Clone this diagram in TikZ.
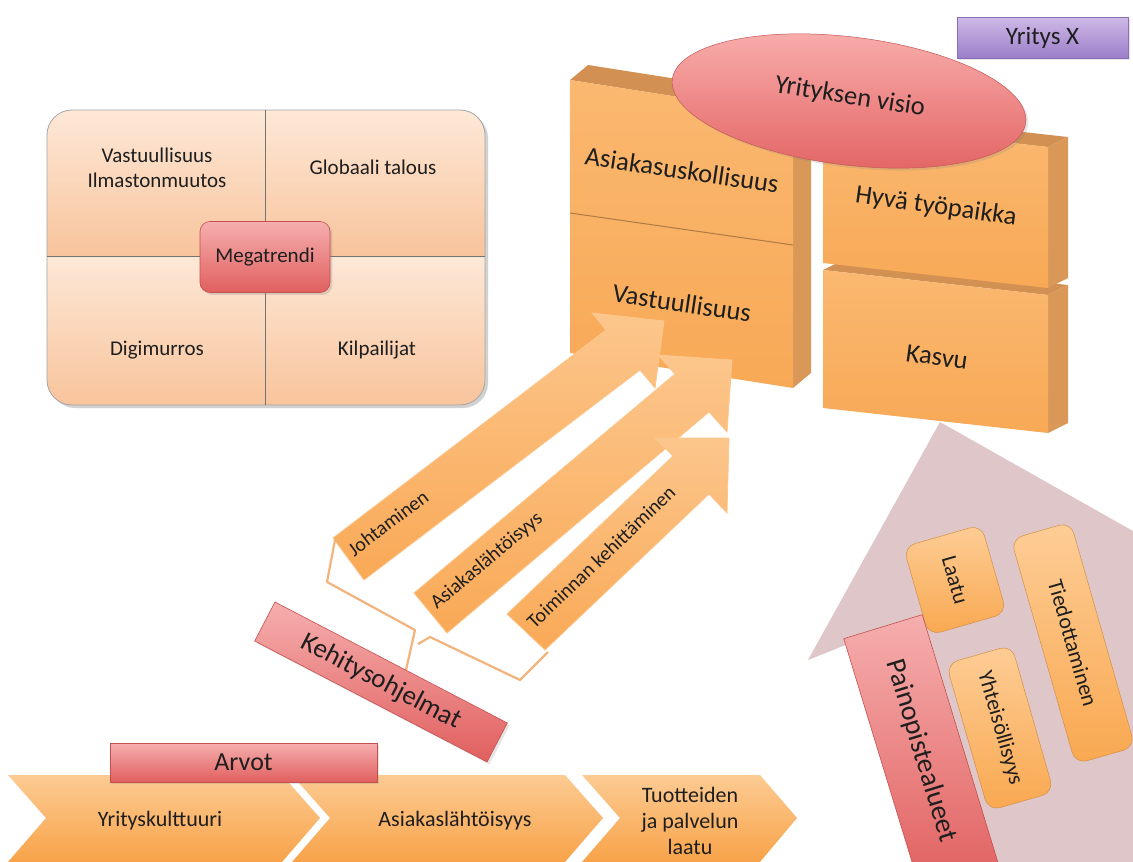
\documentclass[tikz,border=0pt]{standalone}
\usepackage{fontspec}
\setmainfont{Carlito}
\usetikzlibrary{shapes.geometric,shadows}
\definecolor{ink}{HTML}{1E1E1E}
\definecolor{pchL}{HTML}{FDE8D7}
\definecolor{pchD}{HTML}{F8C49C}
\definecolor{redL}{HTML}{F6AEAE}
\definecolor{redD}{HTML}{E0605F}
\definecolor{redB}{HTML}{C4504F}
\definecolor{orL}{HTML}{FCCB93}
\definecolor{orD}{HTML}{F8A349}
\definecolor{faceL}{HTML}{FAB870}
\definecolor{faceD}{HTML}{F8A956}
\definecolor{sidec}{HTML}{D99858}
\definecolor{topc}{HTML}{D29152}
\definecolor{ellL}{HTML}{F9B0AE}
\definecolor{ellD}{HTML}{E46868}
\definecolor{purL}{HTML}{CEB9E7}
\definecolor{purD}{HTML}{9C7EC8}
\definecolor{purB}{HTML}{8A6DB8}
\definecolor{housec}{HTML}{DFC6C8}
\definecolor{bracec}{HTML}{F2B37C}
\definecolor{boxL}{HTML}{FDCD96}
\definecolor{boxD}{HTML}{F9A850}
\definecolor{arrL}{HTML}{FCC68C}
\definecolor{arrD}{HTML}{F9A956}
\begin{document}
\begin{tikzpicture}[x=1pt,y=-1pt,
  every node/.style={text=ink, align=center, inner sep=0pt},
  tq/.style={font=\fontsize{21}{25}\selectfont},
  tb/.style={font=\fontsize{26.5}{31}\selectfont},
  ta/.style={font=\fontsize{20}{24}\selectfont},
  tc/.style={font=\fontsize{22}{26}\selectfont},
  tk/.style={font=\fontsize{27}{32}\selectfont},
  redbox/.style={top color=redL, bottom color=redD, draw=redB, line width=0.6},
  orbox/.style={top color=boxL, bottom color=boxD, draw=boxD!85!black, line width=0.5, rounded corners=12},
  facefill/.style={top color=faceL, bottom color=faceD},
  arrfill/.style={top color=arrL, bottom color=arrD, draw=arrL, line width=0.8},
  chevfill/.style={top color=orL, bottom color=orD},
  bracel/.style={draw=bracec, line width=2.2, line join=round}
]
\useasboundingbox (0,0) rectangle (1133,862);
\clip (0,0) rectangle (1133,862);
\fill[white] (0,0) rectangle (1133,862);

% ---------- Megatrend panel ----------
\fill[black!18, rounded corners=25] (50,113) rectangle (488,408);
\begin{scope}
  \clip[rounded corners=25] (47,110) rectangle (485,405);
  \shade[top color=pchL,bottom color=pchD] (47,110) rectangle (265,256);
  \shade[top color=pchL,bottom color=pchD] (265,110) rectangle (485,256);
  \shade[top color=pchL,bottom color=pchD] (47,256) rectangle (265,405);
  \shade[top color=pchL,bottom color=pchD] (265,256) rectangle (485,405);
\end{scope}
\draw[black!35, line width=0.8, rounded corners=25] (47,110) rectangle (485,405);
\draw[black!55, line width=0.8] (265,110) -- (265,405) (47,256) -- (485,256);
\node[tq] (q1) at (157,168) {Vastuullisuus\\Ilmastonmuutos};
\node[tq] (q2) at (373,167) {Globaali talous};
\node[tq] (q3) at (157,350) {Digimurros};
\node[tq] (q4) at (377,350) {Kilpailijat};
\node[redbox, tq, rounded corners=10, minimum width=130, minimum height=71,
      drop shadow={opacity=0.25}] (mega) at (265,257) {Megatrendi};

% ---------- Blocks ----------
% right lower
\fill[topc] (823,270) -- (843,260) -- (1068,285) -- (1048,295) -- cycle;
\fill[sidec] (1048,295) -- (1068,285) -- (1068,423) -- (1048,433) -- cycle;
\shade[facefill] (823,270) -- (1048,295) -- (1048,433) -- (823,408) -- cycle;
% right upper
\fill[topc] (823,122) -- (843,112) -- (1068,137) -- (1048,147) -- cycle;
\fill[sidec] (1048,147) -- (1068,137) -- (1068,278) -- (1048,288) -- cycle;
\shade[facefill] (823,122) -- (1048,147) -- (1048,288) -- (823,263) -- cycle;
% left
\fill[topc] (570,80) -- (588,65) -- (811,100) -- (793,115) -- cycle;
\fill[sidec] (793,115) -- (811,100) -- (811,373) -- (793,388) -- cycle;
\shade[facefill] (570,80) -- (793,115) -- (793,388) -- (570,353) -- cycle;
\draw[sidec!80!black, line width=1] (570,213) -- (793,245);

\node[tb, rotate=-8.5] (asiak) at (682,170) {Asiakasuskollisuus};
\node[tb, rotate=-8.5] (vast) at (682,303) {Vastuullisuus};
\node[tb, rotate=-8] (hyva) at (936,207) {Hyvä työpaikka};
\node[tb, rotate=-8] (kasvu) at (937,357) {Kasvu};

% ---------- Vision ellipse ----------
\node[ellipse, minimum width=356, minimum height=128, rotate=-7,
      top color=ellL, bottom color=ellD, draw=ellD!85!black, line width=0.5,
      drop shadow={opacity=0.2}] (visio) at (849,101) {};
\node[tb, rotate=-9] (visiot) at (850,97) {Yrityksen visio};

% ---------- Yritys X ----------
\node[top color=purL, bottom color=purD, draw=purB, line width=0.5,
      minimum width=171, minimum height=41, font=\fontsize{25}{30}\selectfont,
      drop shadow={opacity=0.2}] (yritys) at (1042.5,37.5) {Yritys X};

% ---------- House ----------
\fill[housec] (940,422) -- (1140,535) -- (1140,870) -- (936,870) -- (848,644) -- (808,660) -- cycle;
\node[orbox, tc, rotate=-74, minimum width=92, minimum height=81] (laatu) at (955,580) {Laatu};
\node[orbox, tc, rotate=-74, minimum width=234, minimum height=62] (tied) at (1073,643) {Tiedottaminen};
\node[orbox, tc, rotate=-74, minimum width=153, minimum height=68] (yht) at (1000,728) {Yhteisöllisyys};
\node[redbox, rotate=-73, minimum width=260, minimum height=82,
      font=\fontsize{28}{33}\selectfont] (paino) at (921,751) {Painopistealueet};

% ---------- Arrows ----------
\shade[arrfill] (333,538) -- (606,330) -- (592,313) -- (664,321) -- (655,388) -- (640,370) -- (364,580) -- cycle;
\shade[arrfill] (414,593) -- (675,374) -- (658,355) -- (732,360) -- (727,432) -- (709,412) -- (447,633) -- cycle;
\shade[arrfill] (507,614) -- (673,456) -- (655,438) -- (729,438) -- (727,513) -- (709,494) -- (545,650) -- cycle;
\node[ta, rotate=37] (joht) at (388,523) {Johtaminen};
\node[ta, rotate=40] (asl) at (487,561) {Asiakaslähtöisyys};
\node[ta, rotate=43.6] (toim) at (601,557) {Toiminnan kehittäminen};

% ---------- Kehitysohjelmat + brace ----------
\coordinate (b1) at (335,540);
\coordinate (b2) at (548,652);
\coordinate (bs) at (406,670);
\draw[bracel] (b1) -- (327,582) -- (415,630) -- (bs);
\draw[bracel] (418,644) -- (430,637) -- (520,680) -- (b2);
\node[redbox, tk, rotate=-27.5, minimum width=262, minimum height=44,
      drop shadow={opacity=0.2}] (kehit) at (381,682) {Kehitysohjelmat};

% ---------- Chevrons ----------
\shade[chevfill] (8,775) -- (282,775) -- (320,818) -- (282,862) -- (8,862) -- (46,818) -- cycle;
\shade[chevfill] (292,775) -- (565,775) -- (603,818) -- (565,862) -- (292,862) -- (330,818) -- cycle;
\shade[chevfill] (582,775) -- (760,775) -- (797,818) -- (760,862) -- (582,862) -- (620,818) -- cycle;
\node[tc] (c1) at (160,821) {Yrityskulttuuri};
\node[tc] (c2) at (455,821) {Asiakaslähtöisyys};
\node[tc] (c3) at (690,821) {Tuotteiden\\ja palvelun\\laatu};

% ---------- Arvot ----------
\node[redbox, minimum width=267, minimum height=39, font=\fontsize{26}{30}\selectfont,
      drop shadow={opacity=0.2}] (arvot) at (243.5,762.5) {Arvot};
\end{tikzpicture}
\end{document}
